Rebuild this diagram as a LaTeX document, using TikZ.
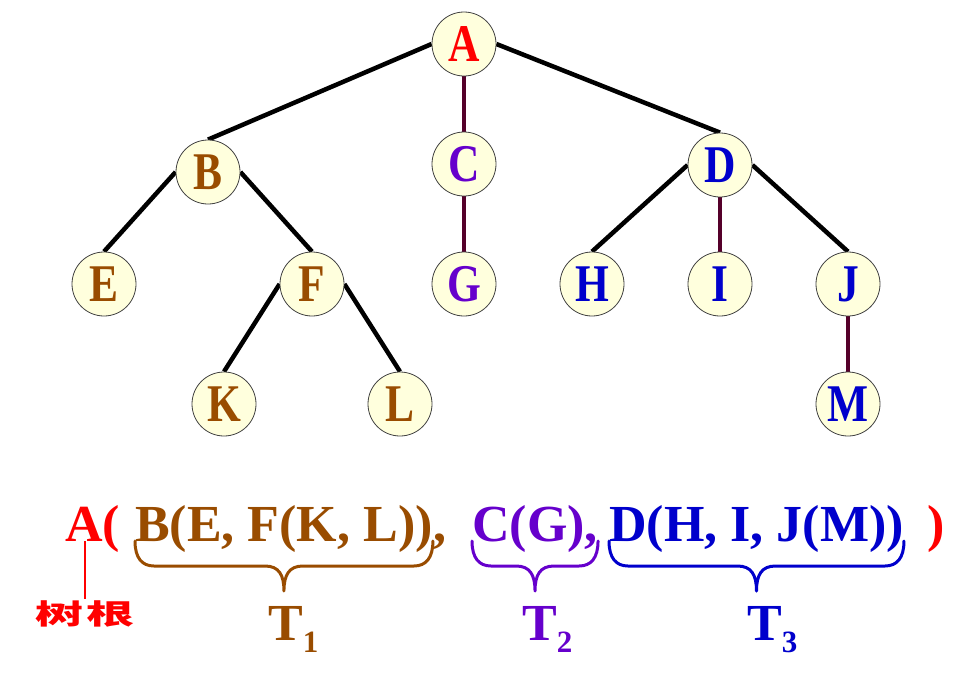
\documentclass[tikz,border=0pt]{standalone}
\usepackage{fontspec}
\setmainfont{Liberation Serif}
\newfontfamily\nodefont[FakeStretch=0.82]{Liberation Serif}
\newfontfamily\cjk{Noto Sans CJK SC}
\usetikzlibrary{positioning,calc,backgrounds}
\definecolor{rootred}{HTML}{FF0000}
\definecolor{subbrown}{HTML}{994C00}
\definecolor{subviolet}{HTML}{6600CC}
\definecolor{subblue}{HTML}{0000CC}
\definecolor{nodefill}{HTML}{FFFFDD}
\definecolor{vertmaroon}{HTML}{55002A}
\newcommand{\tsub}[1]{\raisebox{-12pt}{\fontsize{31}{31}\selectfont #1}}
\newcommand{\treebrace}[3]{%
  \draw[#1, line width=3pt, line cap=round, line join=round]
    (#2) .. controls +(0,17) and +(-12,0) .. ($(#2)+(19,25)$)
    -- ($($(#2)!0.5!(#3)$)+(-19,25)$)
    .. controls +(14,0) and +(0,-16) .. ($($(#2)!0.5!(#3)$)+(0,50)$)
    .. controls +(0,-16) and +(-14,0) .. ($($(#2)!0.5!(#3)$)+(19,25)$)
    -- ($(#3)+(-19,25)$)
    .. controls +(12,0) and +(0,17) .. (#3);}

\begin{document}
\begin{tikzpicture}[
  x=1pt, y=-1pt,
  tnode/.style={circle, draw=black!75, fill=nodefill, line width=0.8pt,
                minimum size=64pt, inner sep=0pt,
                font=\nodefont\bfseries\fontsize{53}{53}\selectfont},
  edge/.style={line width=4.5pt, black},
  vedge/.style={line width=4.5pt, vertmaroon},
  txt/.style={anchor=base west, inner sep=0pt,
              font=\bfseries\fontsize{52}{52}\selectfont},
  tlab/.style={anchor=base west, inner sep=0pt,
               font=\bfseries\fontsize{52}{52}\selectfont}
]
\useasboundingbox (0,0) rectangle (975,683);

%% Tree nodes
\node[tnode, text=rootred]   (A) at (464,44)  {A};
\node[tnode, text=subbrown]  (B) at (208,172) {B};
\node[tnode, text=subviolet] (C) at (464,164) {C};
\node[tnode, text=subblue]   (D) at (720,165) {D};
\node[tnode, text=subbrown]  (E) at (104,284) {E};
\node[tnode, text=subbrown]  (F) at (312,284) {F};
\node[tnode, text=subviolet] (G) at (464,284) {G};
\node[tnode, text=subblue]   (H) at (592,284) {H};
\node[tnode, text=subblue]   (I) at (720,284) {I};
\node[tnode, text=subblue]   (J) at (848,284) {J};
\node[tnode, text=subbrown]  (K) at (224,404) {K};
\node[tnode, text=subbrown]  (L) at (400,404) {L};
\node[tnode, text=subblue]   (M) at (848,404) {M};

%% Tree edges
\begin{scope}[on background layer]
\draw[edge]  (A.west) -- (B.north);
\draw[vedge] (A.south) -- (C.north);
\draw[edge]  (A.east) -- (D.north);
\draw[edge]  (B.west) -- (E.north);
\draw[edge]  (B.east) -- (F.north);
\draw[vedge] (C.south) -- (G.north);
\draw[edge]  (D.west) -- (H.north);
\draw[vedge] (D.south) -- (I.north);
\draw[edge]  (D.east) -- (J.north);
\draw[edge]  (F.west) -- (K.north);
\draw[edge]  (F.east) -- (L.north);
\draw[vedge] (J.south) -- (M.north);
\end{scope}

%% Bracketed form
\node[txt, text=rootred]   (rootA)  at (65,541)  {A(};
\node[txt, text=subbrown]  (tone)   at (135,541) {B(E, F(K, L))};
\node[txt, text=subbrown]  (tonec)  at (tone.base east) {,};
\node[txt, text=subviolet] (ttwo)   at (472,541) {C(G),};
\node[txt, text=subblue]   (tthree) at (609,541) {D(H, I, J(M))};
\node[txt, text=rootred]   (rclose) at (927,541) {)};

%% Subtree braces and labels
\treebrace{subbrown}{tone.base west}{tone.base east}
\treebrace{subviolet}{ttwo.base west}{ttwo.base east}
\treebrace{subblue}{tthree.base west}{tthree.base east}
\node[tlab, text=subbrown]  (tlabone)   at (268,640) {T\tsub{1}};
\node[tlab, text=subviolet] (tlabtwo)   at (522,640) {T\tsub{2}};
\node[tlab, text=subblue]   (tlabthree) at (747,640) {T\tsub{3}};

%% Root marker
\node[text=rootred, inner sep=0pt] (rootlab) at (85,614)
  {\scalebox{1}[0.58]{\cjk\bfseries\fontsize{48}{48}\selectfont 树\hspace{3pt}根}};
\draw[rootred, line width=1.6pt] (rootlab.north |- rootA.base) -- ([yshift=2pt]rootlab.north);

\end{tikzpicture}
\end{document}
